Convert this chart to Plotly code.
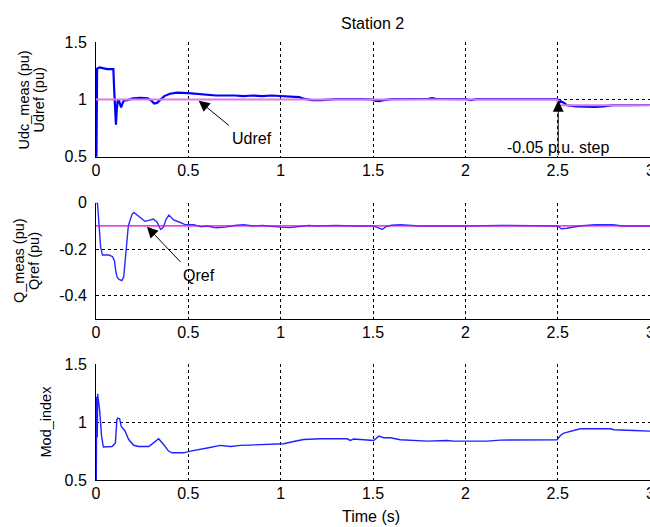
import plotly.graph_objects as go

W, H = 650, 527

# ---------------- data ----------------
udc_t = [0.0, 0.003, 0.006, 0.02, 0.04, 0.06, 0.08, 0.094, 0.098, 0.104, 0.108, 0.112, 0.118,
         0.124, 0.13, 0.136, 0.142, 0.15, 0.17, 0.2, 0.24, 0.28, 0.3, 0.315, 0.33, 0.35, 0.37,
         0.4, 0.44, 0.5, 0.55, 0.6, 0.65, 0.75, 0.8, 0.85, 0.9, 0.95, 1.0, 1.05, 1.1, 1.13,
         1.17, 1.22, 1.26, 1.3, 1.45, 1.5, 1.51, 1.53, 1.55, 1.6, 1.8, 1.82, 1.84, 2.0, 2.03,
         2.06, 2.49, 2.5, 2.505, 2.515, 2.53, 2.55, 2.6, 2.65, 2.7, 2.75, 2.8, 2.9, 3.0]
udc_v = [0.0, 1.18, 1.27, 1.28, 1.27, 1.265, 1.265, 1.265, 1.1, 0.95, 0.78, 0.9, 1.0,
         0.99, 0.95, 0.93, 0.96, 0.99, 0.995, 1.01, 1.015, 1.01, 0.99, 0.965, 0.97, 1.0, 1.03,
         1.05, 1.06, 1.055, 1.05, 1.04, 1.035, 1.035, 1.03, 1.035, 1.03, 1.035, 1.03, 1.025, 1.02, 1.005,
         0.995, 0.995, 1.0, 1.003, 1.003, 1.0, 0.99, 0.985, 0.992, 1.003, 1.005, 1.012, 1.005, 1.003, 0.995,
         1.003, 1.003, 1.0, 0.96, 0.985, 0.975, 0.95, 0.94, 0.935, 0.935, 0.94, 0.95, 0.95, 0.952]

udref_t = [0.0, 2.5, 2.5, 3.0]
udref_v = [1.0, 1.0, 0.95, 0.95]

q_t = [0.0, 0.008, 0.015, 0.025, 0.035, 0.05, 0.07, 0.09, 0.1, 0.108, 0.115, 0.125, 0.14, 0.15,
       0.158, 0.165, 0.175, 0.185, 0.195, 0.205, 0.215, 0.24, 0.265, 0.29, 0.31, 0.33, 0.35, 0.365,
       0.38, 0.395, 0.42, 0.45, 0.48, 0.53, 0.57, 0.6, 0.65, 0.7, 0.75, 0.8, 0.85, 0.9, 0.95, 1.0,
       1.05, 1.1, 1.15, 1.2, 1.3, 1.4, 1.5, 1.53, 1.55, 1.57, 1.6, 1.65, 1.7, 1.75, 2.0, 2.2, 2.5,
       2.52, 2.55, 2.58, 2.62, 2.7, 2.8, 2.85, 3.0]
q_v = [0.0, 0.0, -0.08, -0.19, -0.225, -0.225, -0.225, -0.232, -0.25, -0.3, -0.32, -0.33, -0.335, -0.32,
       -0.25, -0.16, -0.1, -0.075, -0.05, -0.042, -0.048, -0.067, -0.08, -0.075, -0.07, -0.083, -0.115, -0.105,
       -0.07, -0.053, -0.074, -0.083, -0.093, -0.095, -0.104, -0.1, -0.108, -0.105, -0.098, -0.095, -0.1, -0.098, -0.103, -0.105,
       -0.107, -0.103, -0.098, -0.1, -0.098, -0.1, -0.1, -0.108, -0.115, -0.103, -0.097, -0.095, -0.096, -0.1, -0.1, -0.098, -0.1,
       -0.112, -0.11, -0.106, -0.1, -0.095, -0.095, -0.1, -0.1]

qref_t = [0.0, 3.0]
qref_v = [-0.1, -0.1]

m_t = [0.0, 0.002, 0.003, 0.004, 0.005, 0.006, 0.007, 0.009, 0.012, 0.02, 0.03, 0.04, 0.06, 0.087,
       0.105, 0.113, 0.118, 0.128, 0.137, 0.155, 0.177, 0.204, 0.231, 0.285, 0.303, 0.339, 0.366,
       0.393, 0.412, 0.475, 0.511, 0.565, 0.61, 0.673, 0.728, 0.782, 0.962, 1.016, 1.07, 1.125,
       1.215, 1.36, 1.377, 1.395, 1.504, 1.531, 1.558, 1.594, 1.648, 1.757, 1.793, 1.901, 1.937,
       2.118, 2.19, 2.497, 2.515, 2.533, 2.587, 2.623, 2.786, 2.804, 2.912, 3.0]
m_v = [0.0, 1.2, 0.85, 1.22, 0.86, 1.2, 0.87, 1.245, 1.2, 1.1, 0.88, 0.785, 0.785, 0.79,
       0.82, 1.02, 1.035, 1.03, 0.96, 0.93, 0.85, 0.8, 0.79, 0.79, 0.81, 0.856, 0.807,
       0.75, 0.735, 0.735, 0.75, 0.764, 0.779, 0.799, 0.79, 0.799, 0.805, 0.813, 0.833, 0.85,
       0.856, 0.856, 0.842, 0.854, 0.842, 0.879, 0.865, 0.865, 0.848, 0.842, 0.836, 0.842, 0.836,
       0.836, 0.845, 0.848, 0.885, 0.905, 0.928, 0.943, 0.943, 0.934, 0.928, 0.922]

x_ticks = [0, 0.5, 1, 1.5, 2, 2.5, 3]
x_ticktext = ["0", "0.5", "1", "1.5", "2", "2.5", "3"]
y1_ticks = [0.5, 1, 1.5]
y1_ticktext = ["0.5", "1", "1.5"]
y2_ticks = [-0.4, -0.2, 0]
y2_ticktext = ["-0.4", "-0.2", "0"]
y3_ticks = [0.5, 1, 1.5]
y3_ticktext = ["0.5", "1", "1.5"]

# ---------------- layout helpers ----------------
FONT = "Liberation Sans, Arial, sans-serif"
X0, X1 = 96 / W, 1.0


def ydom(top_px, bot_px):
    return [1 - bot_px / H, 1 - top_px / H]


def px(x):
    return x / W


def py(y):
    return 1 - y / H


axis_common = dict(
    showline=True, linecolor="black", linewidth=1, mirror=False,
    showgrid=True, gridcolor="black", gridwidth=1, griddash="3px,3px",
    zeroline=False, ticks="", tickfont=dict(family=FONT, size=16, color="black"),
    fixedrange=True, automargin=False,
)

fig = go.Figure()
blue = "#0000FF"
fig.add_trace(go.Scatter(x=udc_t, y=udc_v, mode="lines", line=dict(color=blue, width=2.2),
                         xaxis="x", yaxis="y", showlegend=False))
fig.add_trace(go.Scatter(x=udref_t, y=udref_v, mode="lines", line=dict(color="#E07AE0", width=2),
                         xaxis="x", yaxis="y", showlegend=False))
fig.add_trace(go.Scatter(x=q_t, y=q_v, mode="lines", line=dict(color="#2828FF", width=1.4),
                         xaxis="x2", yaxis="y2", showlegend=False))
fig.add_trace(go.Scatter(x=qref_t, y=qref_v, mode="lines", line=dict(color="#E000E0", width=1.3),
                         xaxis="x2", yaxis="y2", showlegend=False))
fig.add_trace(go.Scatter(x=m_t, y=m_v, mode="lines", line=dict(color="#2020FF", width=1.4),
                         xaxis="x3", yaxis="y3", showlegend=False))

xax = dict(axis_common, range=[0, 3], tickvals=x_ticks, ticktext=x_ticktext,
           domain=[X0, X1], ticklabelstandoff=-1)

fig.update_layout(
    width=W, height=H,
    margin=dict(l=0, r=0, t=0, b=0, autoexpand=False),
    paper_bgcolor="white", plot_bgcolor="white",
    font=dict(family=FONT, size=16, color="black"),
    showlegend=False,
    xaxis=dict(xax, anchor="y"),
    xaxis2=dict(xax, anchor="y2"),
    xaxis3=dict(xax, anchor="y3"),
    yaxis=dict(axis_common, range=[0.5, 1.5], tickvals=y1_ticks, ticktext=y1_ticktext,
               domain=ydom(42.3, 156.7), anchor="x", ticklabelstandoff=5),
    yaxis2=dict(axis_common, range=[-0.5, 0], tickvals=y2_ticks, ticktext=y2_ticktext,
                domain=ydom(202.7, 319), anchor="x2", ticklabelstandoff=5),
    yaxis3=dict(axis_common, range=[0.5, 1.5], tickvals=y3_ticks, ticktext=y3_ticktext,
                domain=ydom(364.3, 480), anchor="x3", ticklabelstandoff=5),
)

ann = []


def text_ann(text, xp, yp, size=16, angle=0):
    ann.append(dict(text=text, x=px(xp), y=py(yp), xref="paper", yref="paper",
                    xanchor="center", yanchor="middle", showarrow=False, textangle=angle,
                    font=dict(family=FONT, size=size, color="black")))


text_ann("Station 2", 372, 23.5)
text_ann("Time (s)", 370.7, 516)
text_ann("Udc_meas (pu)", 23.5, 100, size=14.5, angle=-90)
text_ann("Udref (pu)", 38.5, 100, size=14.5, angle=-90)
text_ann("Q_meas (pu)", 19, 261, size=14.5, angle=-90)
text_ann("Qref (pu)", 34, 261, size=14.5, angle=-90)
text_ann("Mod_index", 45.5, 422, size=14.5, angle=-90)

# last x tick label "3", half cut at the right edge as in the reference
for xa, ya in (("x", "y"), ("x2", "y2"), ("x3", "y3")):
    ann.append(dict(text=x_ticktext[-1], x=x_ticks[-1], y=0, xref=xa, yref=ya + " domain",
                    yanchor="top", xanchor="center", yshift=-3, showarrow=False,
                    font=dict(family=FONT, size=16, color="black")))

# arrows (data coordinates)
arrow_style = dict(showarrow=True, arrowhead=2, arrowsize=2.2, arrowwidth=1, arrowcolor="black",
                   standoff=0, startstandoff=0, text="")
ann.append(dict(arrow_style, x=0.556, y=0.99, ax=0.728, ay=0.762, xref="x", yref="y", axref="x", ayref="y"))
ann.append(dict(text="Udref", x=0.845, y=0.66, xref="x", yref="y", showarrow=False,
                font=dict(family=FONT, size=16, color="black")))
ann.append(dict(arrow_style, x=2.503, y=0.99, ax=2.503, ay=0.5, xref="x", yref="y", axref="x", ayref="y"))
ann.append(dict(text="-0.05 p.u. step", x=2.503, y=0.58, xref="x", yref="y", showarrow=False,
                font=dict(family=FONT, size=16, color="black")))
ann.append(dict(arrow_style, x=0.276, y=-0.103, ax=0.465, ay=-0.261, xref="x2", yref="y2", axref="x2", ayref="y2"))
ann.append(dict(text="Qref", x=0.556, y=-0.311, xref="x2", yref="y2", showarrow=False,
                font=dict(family=FONT, size=16, color="black")))

fig.update_layout(annotations=ann)
fig.write_html("out.html", config={"displayModeBar": False},
               post_script="document.body.style.margin='0';document.body.style.overflow='hidden';")
